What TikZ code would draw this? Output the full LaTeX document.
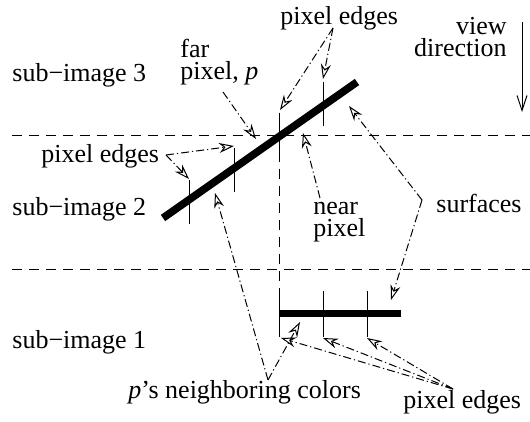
\documentclass[tikz,border=0pt]{standalone}
\usepackage{fontspec}
\setmainfont{Liberation Serif}
\usetikzlibrary{arrows.meta}
\tikzset{
  lbl/.style={inner sep=0pt,font=\fontsize{13}{11}\selectfont},
  pointer/.style={line width=0.5pt,dash pattern=on 4pt off 1.5pt on 0.6pt off 1.5pt,
    -{Stealth[open,length=7.5pt,width=5pt,inset=2.5pt]}},
  surf/.style={line width=3.8pt},
  pxedge/.style={line width=0.5pt},
  split/.style={line width=0.5pt,dash pattern=on 5pt off 3.5pt},
}
\begin{document}
\begin{tikzpicture}[x=0.5pt,y=-0.5pt]
\useasboundingbox (0,0) rectangle (530,422);
\draw[split] (12,136) -- (530,136);
\draw[split] (12,270) -- (530,270);
\draw[split] (279,152) -- (279,291);
\draw[surf] (163,218) -- (357,82);
\draw[surf] (279,313.5) -- (401,313.5);
\foreach \ex/\ey in {189/202,234/170,323/104}
  \draw[pxedge] (\ex,\ey-22) -- (\ex,\ey+22);
\draw[pxedge] (279,113) -- (279,152);
\foreach \ex in {279,323,367}
  \draw[pxedge] (\ex,291) -- (\ex,337);
\node[lbl,anchor=base west] (sub3) at (12,82) {sub−image 3};
\node[lbl,anchor=base west] (sub2) at (12,216) {sub−image 2};
\node[lbl,anchor=base west] (sub1) at (12,348) {sub−image 1};
\node[lbl,anchor=base west] (edgesT) at (280,25) {pixel edges};
\node[lbl,anchor=base west] (edgesL) at (41,163) {pixel edges};
\node[lbl,anchor=base west] (edgesB) at (403,408) {pixel edges};
\node[lbl,anchor=north west,align=left] (far) at (180,39) {far\\pixel, \textit{p}};
\node[lbl,anchor=north west,align=left] (near) at (313,202) {near\\pixel};
\node[lbl,anchor=north east,align=right] (view) at (507,17) {view\\direction};
\node[lbl,anchor=base west] (surfs) at (436,213) {surfaces};
\node[lbl,anchor=base west] (nbr) at (128,398) {\textit{p}’s neighboring colors};
\coordinate (edgesTp) at (333,28);
\coordinate (edgesLp) at (166,155);
\coordinate (edgesBp) at (453,389);
\coordinate (farp) at (223,92);
\coordinate (nearp) at (320,198);
\coordinate (surfsp) at (422,200);
\coordinate (nbrp) at (268,380);
\coordinate (viewtop) at (522,22);
\coordinate (viewbot) at (522,112);
\draw[pointer] (edgesTp) -- (280,110);
\draw[pointer] (edgesTp) -- (323,79);
\draw[pointer] (edgesLp) -- (234,146);
\draw[pointer] (edgesLp) -- (189,179);
\draw[pointer] (farp) -- (256,139);
\draw[pointer] (nearp) -- (303,133);
\draw[pointer] (surfsp) -- (349,106);
\draw[pointer] (surfsp) -- (391,300);
\draw[pointer] (nbrp) -- (215,193);
\draw[pointer] (nbrp) -- (300,322);
\draw[pointer] (edgesBp) -- (281,338);
\draw[pointer] (edgesBp) -- (323,338);
\draw[pointer] (edgesBp) -- (367,338);
\draw[line width=0.5pt,-{Straight Barb[length=7.5pt,width=5pt]}] (viewtop) -- (viewbot);
\end{tikzpicture}
\end{document}
